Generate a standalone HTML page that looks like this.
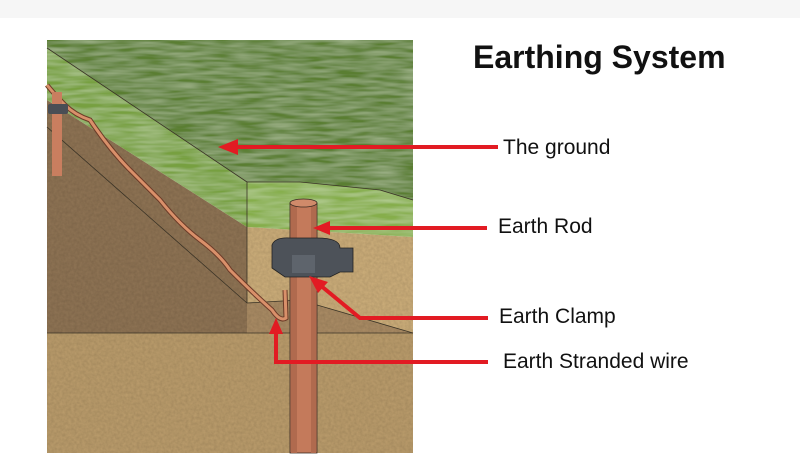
<!DOCTYPE html>
<html><head><meta charset="utf-8"><style>
html,body{margin:0;padding:0;background:#fff;}
svg{display:block}
text{font-family:"Liberation Sans",Arial,sans-serif;fill:#111}
</style></head><body>
<svg width="800" height="473" viewBox="0 0 800 473" xmlns="http://www.w3.org/2000/svg">
<defs>
<filter id="n" x="0" y="0" width="100%" height="100%">
<feTurbulence type="fractalNoise" baseFrequency="0.35" numOctaves="2" seed="3"/>
<feColorMatrix type="matrix" values="0 0 0 0 0  0 0 0 0 0  0 0 0 0 0  0 0 0 0.3 -0.05"/>
<feComposite in2="SourceGraphic" operator="in"/>
<feBlend in2="SourceGraphic" mode="multiply"/>
</filter>
<filter id="g" x="0" y="0" width="100%" height="100%">
<feTurbulence type="fractalNoise" baseFrequency="0.03 0.25" numOctaves="2" seed="5"/>
<feColorMatrix type="matrix" values="0 0 0 0 0.85  0 0 0 0 0.95  0 0 0 0 0.7  0 0 0 0.45 -0.12"/>
<feComposite in2="SourceGraphic" operator="in"/>
<feBlend in2="SourceGraphic" mode="screen"/>
</filter>
</defs>
<rect x="0" y="0" width="800" height="18" fill="#f6f6f6"/>
<g filter="url(#n)">
<rect x="47" y="333" width="366" height="120" fill="#b89a6a"/>
<polygon points="47,100 247,227 247,303 413,333 47,333" fill="#8d7253"/>
<polygon points="247,227 413,237 413,333 247,303" fill="#c9ab78"/>
<polygon points="247,303 300,300 413,333 247,333" fill="#a88a63"/>
</g>
<g filter="url(#g)">
<polygon points="47,40 413,40 413,200 380,190 300,182 247,182 47,48" fill="#5a7e33"/>
<polygon points="47,48 247,182 247,227 47,100" fill="#77a040"/>
<polygon points="247,182 300,182 380,190 413,200 413,237 247,227" fill="#86ae4c"/>
</g>
<g fill="none" stroke="#3a3326" stroke-width="0.8">
<polyline points="47,48 247,182 247,303"/>
<polyline points="247,182 300,182 380,190 413,200"/>
<line x1="47" y1="333" x2="413" y2="333"/>
<line x1="47" y1="127" x2="247" y2="303"/>
<polyline points="247,303 300,300 413,333"/>
</g>
<path d="M47,85 Q55,95 65,105 T90,120 Q110,150 130,170 T160,200 Q180,225 200,240 T230,270 Q255,295 272,310 Q280,322 286,318 L285,290" fill="none" stroke="#6b3b28" stroke-width="5"/>
<path d="M47,85 Q55,95 65,105 T90,120 Q110,150 130,170 T160,200 Q180,225 200,240 T230,270 Q255,295 272,310 Q280,322 286,318 L285,290" fill="none" stroke="#d9906a" stroke-width="3"/>
<rect x="52" y="92" width="10" height="84" fill="#c97e5f"/>
<rect x="48" y="104" width="20" height="10" rx="2" fill="#4a4e55"/>
<rect x="290" y="203" width="27" height="250" fill="#c47a5b" stroke="#3a2a22" stroke-width="0.8"/>
<rect x="291" y="205" width="6" height="248" fill="#b06a4e"/>
<rect x="311" y="205" width="5" height="248" fill="#b06a4e"/>
<ellipse cx="303.5" cy="203" rx="13.5" ry="4" fill="#d08a6a" stroke="#3a2a22" stroke-width="0.8"/>
<path d="M272,245 Q275,237 290,238 L317,238 Q340,238 340,248 L353,248 L353,272 L340,272 L330,277 L285,277 L272,268 Z" fill="#4d5259" stroke="#222" stroke-width="0.8"/>
<rect x="292" y="255" width="23" height="18" fill="#5e646c"/>
<g stroke="#e21b23" stroke-width="4" fill="none">
<line x1="498" y1="147" x2="232" y2="147"/>
<line x1="487" y1="228" x2="327" y2="228"/>
<polyline points="488,318 360,318 320,285"/>
<polyline points="488,362 276,362 276,332"/>
</g>
<g fill="#e21b23">
<polygon points="218,147 238,139 238,155"/>
<polygon points="313,228 330,221 330,235"/>
<polygon points="309,276 328,282 318,293"/>
<polygon points="276,318 269,334 283,334"/>
</g>
<text x="473" y="68" font-size="32" font-weight="bold">Earthing System</text>
<text x="503" y="154" font-size="21">The ground</text>
<text x="498" y="233" font-size="21">Earth Rod</text>
<text x="499" y="323" font-size="21">Earth Clamp</text>
<text x="503" y="368" font-size="21">Earth Stranded wire</text>
</svg>
</body></html>
